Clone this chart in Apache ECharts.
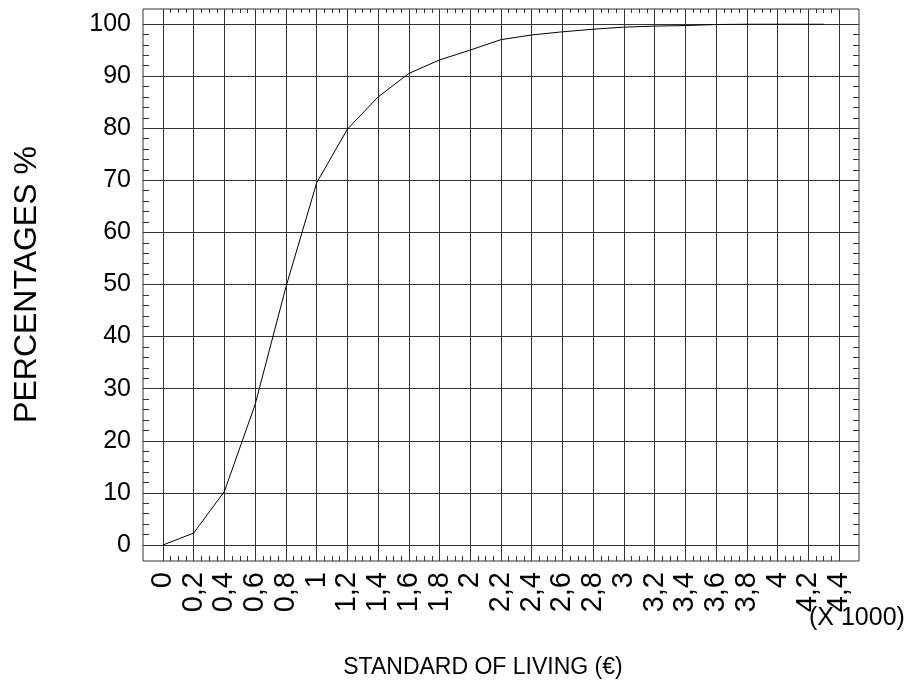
<!DOCTYPE html>
<html>
<head>
<meta charset="utf-8">
<script src="https://cdn.jsdelivr.net/npm/echarts@6/dist/echarts.min.js"></script>
<style>
html,body{margin:0;padding:0;background:#fff;}
#chart{width:910px;height:687px;}
</style>
</head>
<body>
<div id="chart"></div>
<script>
// Data (x in thousands of €, y in %)
var xValues = [0, 0.2, 0.4, 0.6, 0.8, 1.0, 1.2, 1.4, 1.6, 1.8, 2.0, 2.2, 2.4, 2.6, 2.8, 3.0, 3.2, 3.4, 3.6, 3.8, 4.0, 4.2, 4.3];
var yValues = [0, 2.3, 10.3, 27, 49.5, 69.5, 79.8, 86, 90.5, 93.1, 95, 97, 97.9, 98.5, 99, 99.4, 99.6, 99.7, 99.9, 100, 100, 100, 100];
var xTickLabels = ['0','0,2','0,4','0,6','0,8','1','1,2','1,4','1,6','1,8','2','2,2','2,4','2,6','2,8','3','3,2','3,4','3,6','3,8','4','4,2','4,4'];
var yTickLabels = ['0','10','20','30','40','50','60','70','80','90','100'];
var xName = 'STANDARD OF LIVING (€)';
var yName = 'PERCENTAGES %';
var unitNote = '(X 1000)';

var seriesData = xValues.map(function (x, i) { return [x, yValues[i]]; });

var gridColor = '#333';
var regular = '"Liberation Sans", Arial, sans-serif';

var chart = echarts.init(document.getElementById('chart'));
var xMax = 0.2 * (xTickLabels.length - 1);
var yMax = 10 * (yTickLabels.length - 1);

function xAxisCommon() {
  return {
    type: 'value', gridIndex: 1, min: 0, max: xMax, interval: 0.2,
    axisLine: { show: false, onZero: false },
    splitLine: { show: false }
  };
}
function yAxisCommon() {
  return {
    type: 'value', gridIndex: 1, min: 0, max: yMax, interval: 10,
    axisLine: { show: false, onZero: false },
    splitLine: { show: false }
  };
}

var bottomX = xAxisCommon();
bottomX.position = 'bottom';
bottomX.offset = 16;
bottomX.axisTick = { show: true, inside: true, length: 16, lineStyle: { color: gridColor, width: 1 } };
bottomX.minorTick = { show: true, splitNumber: 4, length: 5, lineStyle: { color: gridColor, width: 1 } };
bottomX.splitLine = { show: true, lineStyle: { color: gridColor, width: 1 } };
bottomX.axisLabel = {
  show: true, rotate: 90, interval: 0, margin: 11, color: '#000',
  fontFamily: regular, fontSize: 29,
  formatter: function (v) { return xTickLabels[Math.round(v / 0.2)]; }
};
bottomX.name = xName;
bottomX.nameLocation = 'middle';
bottomX.nameGap = 95;
bottomX.nameTextStyle = { fontFamily: regular, fontSize: 23, color: '#000', padding: [0, 36, 0, 0] };

var topX = xAxisCommon();
topX.position = 'top';
topX.offset = 15;
topX.axisTick = { show: true, inside: true, length: 15, lineStyle: { color: gridColor, width: 1 } };
topX.minorTick = { show: true, splitNumber: 4, length: 4, lineStyle: { color: gridColor, width: 1 } };
topX.axisLabel = { show: false };

var leftY = yAxisCommon();
leftY.position = 'left';
leftY.offset = 20;
leftY.axisTick = { show: true, inside: true, length: 20, lineStyle: { color: gridColor, width: 1 } };
leftY.minorTick = { show: true, splitNumber: 5, length: 6, lineStyle: { color: gridColor, width: 1 } };
leftY.splitLine = { show: true, lineStyle: { color: gridColor, width: 1 } };
leftY.axisLabel = {
  show: true, margin: 12, color: '#000', fontFamily: regular, fontSize: 25,
  formatter: function (v) { return yTickLabels[Math.round(v / 10)]; }
};
leftY.name = yName;
leftY.nameLocation = 'middle';
leftY.nameRotate = 90;
leftY.nameGap = 100;
leftY.nameTextStyle = { fontFamily: regular, fontSize: 32, color: '#000' };

var rightY = yAxisCommon();
rightY.position = 'right';
rightY.offset = 20;
rightY.axisTick = { show: true, inside: true, length: 20, lineStyle: { color: gridColor, width: 1 } };
rightY.minorTick = { show: true, splitNumber: 5, length: 6, lineStyle: { color: gridColor, width: 1 } };
rightY.axisLabel = { show: false };

var option = {
  animation: false,
  backgroundColor: '#fff',
  grid: [
    { left: 143, right: 51, top: 9, bottom: 126, show: true, borderColor: gridColor, borderWidth: 1, backgroundColor: 'transparent' },
    { left: 163, right: 71, top: 24, bottom: 142, show: false }
  ],
  xAxis: [
    { type: 'value', gridIndex: 0, show: false, min: 0, max: 1 },
    bottomX,
    topX
  ],
  yAxis: [
    { type: 'value', gridIndex: 0, show: false, min: 0, max: 1 },
    leftY,
    rightY
  ],
  graphic: [
    { type: 'text', left: 809, top: 606, style: { text: unitNote, font: '25px ' + regular, fill: '#000' } }
  ],
  series: [
    {
      type: 'line', xAxisIndex: 1, yAxisIndex: 1, data: seriesData,
      symbol: 'none', lineStyle: { color: '#000', width: 1 }, z: 5
    }
  ]
};
chart.setOption(option);
</script>
</body>
</html>
